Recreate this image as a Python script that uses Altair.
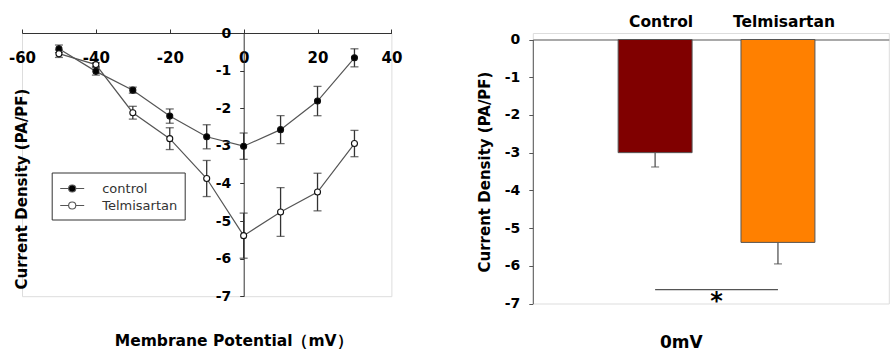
import altair as alt
import pandas as pd

FONT = "DejaVu Sans"

# ---- I-V curve data (left panel) ----
voltage = [-50, -40, -30, -20, -10, 0, 10, 20, 30]
control_mean = [-0.42, -1.02, -1.52, -2.21, -2.76, -3.01, -2.57, -1.81, -0.66]
control_sem = [0.10, 0.10, 0.08, 0.19, 0.32, 0.35, 0.37, 0.39, 0.24]
telmi_mean = [-0.55, -0.84, -2.12, -2.81, -3.87, -5.39, -4.76, -4.23, -2.94]
telmi_sem = [0.10, 0.05, 0.17, 0.29, 0.48, 0.60, 0.65, 0.50, 0.35]
line_groups = ["control", "Telmisartan"]
x_ticks = [-60, -40, -20, 0, 20, 40]
y_ticks = [-7, -6, -5, -4, -3, -2, -1, 0]

# ---- 0 mV bar data (right panel) ----
bar_groups = ["Control", "Telmisartan"]
bar_mean = [-3.00, -5.38]
bar_sem = [0.38, 0.57]
bar_colors = ["#800000", "#FF8000"]
sig_level = [-6.63]
star_level = [-6.95]

n = len(voltage)
df_iv = pd.DataFrame({
    "voltage": voltage * 2,
    "mean": control_mean + telmi_mean,
    "sem": control_sem + telmi_sem,
    "group": [line_groups[0]] * n + [line_groups[1]] * n,
})
df_iv["lo"] = df_iv["mean"] - df_iv["sem"]
df_iv["hi"] = df_iv["mean"] + df_iv["sem"]

HYPHEN = "'' + datum.value"

xs = alt.Scale(domain=[-60, 40], nice=False, zero=False)
ys = alt.Scale(domain=[-7, 0], nice=False)

x_axis = alt.Axis(orient="top", values=x_ticks, tickCount=20, title=None, grid=False,
                  tickSize=4, labelPadding=-33.5, labelBaseline="alphabetic", labelFont=FONT,
                  labelFontSize=15, labelFontWeight="bold", labelColor="#000",
                  domainColor="#333", tickColor="#333", labelFlush=False,
                  labelOverlap=False, labelExpr=HYPHEN)
y_axis = alt.Axis(orient="left", offset=-221.7, values=y_ticks, tickCount=20, grid=False,
                  tickSize=4, labelPadding=9, labelFont=FONT, labelFontSize=14,
                  labelFontWeight="bold", labelColor="#000", domainColor="#333",
                  tickColor="#333", labelFlush=False, labelOverlap=False, labelExpr=HYPHEN,
                  title="Current Density (PA/PF)", titleX=-222, titleY=155.5,
                  titleAngle=270, titleAlign="center", titleBaseline="middle",
                  titleFont=FONT, titleFontSize=15, titleFontWeight="bold", titleColor="#000")

base = alt.Chart(df_iv)
X = alt.X("voltage:Q", scale=xs, axis=x_axis)

err = base.mark_rule(color="#333", strokeWidth=1.3).encode(
    x=X, y=alt.Y("lo:Q", scale=ys, axis=y_axis), y2="hi:Q")
cap_lo = base.mark_tick(color="#333", orient="horizontal", size=8, thickness=1.3).encode(
    x=X, y=alt.Y("lo:Q", scale=ys))
cap_hi = base.mark_tick(color="#333", orient="horizontal", size=8, thickness=1.3).encode(
    x=X, y=alt.Y("hi:Q", scale=ys))
lines = base.mark_line(color="#555", strokeWidth=1.2).encode(
    x=X, y=alt.Y("mean:Q", scale=ys), detail="group:N")
# legend glyph: short line with a circle, drawn in symbol units (scale = 8.5 px)
legend_symbol = ("M-0.88,0L0.11,0M0.95,0L1.94,0M0.95,0A0.42,0.42,0,1,1,0.11,0"
                 "A0.42,0.42,0,1,1,0.95,0Z")
points = base.mark_point(filled=True, size=36, stroke="#111", strokeWidth=1.1, opacity=1).encode(
    x=X, y=alt.Y("mean:Q", scale=ys),
    fill=alt.Fill("group:N", scale=alt.Scale(domain=line_groups, range=["#000000", "#ffffff"]),
                  legend=alt.Legend(title=None, orient="none", legendX=29.7, legendY=139.5,
                                    symbolType=legend_symbol, symbolSize=289,
                                    symbolStrokeColor="#111", symbolStrokeWidth=1.1,
                                    symbolOpacity=1,
                                    labelFont=FONT, labelFontSize=13, labelColor="#333",
                                    labelOffset=25, rowPadding=0, padding=6.5,
                                    strokeColor="#333", fillColor="white")))

left = alt.layer(err, cap_lo, cap_hi, lines, points).properties(
    width=369.4, height=263.2,
    title=alt.TitleParams("Membrane Potential（mV）", orient="bottom", anchor="middle",
                          dx=27, offset=31, font=FONT, fontSize=15.5, fontWeight="bold",
                          color="#000"))

# ---- right panel ----
df_bar = pd.DataFrame({"group": bar_groups, "mean": bar_mean, "sem": bar_sem,
                       "color": bar_colors})
df_bar["lo"] = df_bar["mean"] - df_bar["sem"]

xb = alt.Scale(domain=bar_groups, paddingInner=0.398, paddingOuter=0.648, align=0.536)
yb = alt.Scale(domain=[-7, 0], range=[270.5, 6.5], nice=False)

xb_axis = alt.Axis(orient="top", offset=-6.5, title=None, ticks=False, tickSize=0,
                   labelAngle=0, labelPadding=13.5, labelBaseline="alphabetic",
                   labelOffset=6, labelFont=FONT, labelFontSize=15.5, labelFontWeight="bold",
                   labelColor="#000", domainColor="#555", domainWidth=1.2)
yb_axis = alt.Axis(values=y_ticks, tickCount=20, grid=False, tickSize=4, labelPadding=9,
                   labelFont=FONT, labelFontSize=14, labelFontWeight="bold", labelColor="#000",
                   domainColor="#555", tickColor="#555", labelExpr=HYPHEN,
                   labelOverlap=False, labelFlush=False,
                   title="Current Density (PA/PF)", titlePadding=12, titleFont=FONT,
                   titleFontSize=15, titleFontWeight="bold", titleColor="#000")

bbase = alt.Chart(df_bar)
XB = alt.X("group:N", scale=xb, axis=xb_axis)
bars = bbase.mark_bar(stroke="#555", strokeWidth=1).encode(
    x=XB, y=alt.Y("mean:Q", scale=yb, axis=yb_axis),
    fill=alt.Fill("color:N", scale=None))
berr = bbase.mark_rule(color="#555", strokeWidth=1.3).encode(
    x=XB, y=alt.Y("mean:Q", scale=yb), y2="lo:Q")
bcap = bbase.mark_tick(color="#555", orient="horizontal", size=8, thickness=1.3).encode(
    x=XB, y=alt.Y("lo:Q", scale=yb))

df_sig = pd.DataFrame({"a": [bar_groups[0]], "b": [bar_groups[1]],
                       "y": sig_level, "ys": star_level})
sig = alt.Chart(df_sig).mark_rule(color="#555", strokeWidth=1.3).encode(
    x=alt.X("a:N", scale=xb), x2="b:N", y=alt.Y("y:Q", scale=yb))
star = alt.Chart(df_sig).mark_text(text="*", dx=61.5, font=FONT, fontSize=24,
                                   fontWeight="bold", baseline="middle", color="#000").encode(
    x=alt.X("a:N", scale=xb), y=alt.Y("ys:Q", scale=yb))

right = alt.layer(bars, berr, bcap, sig, star).properties(
    width=356, height=270.5,
    title=alt.TitleParams("0mV", orient="bottom", anchor="middle", dx=-29.5, offset=21,
                          font=FONT, fontSize=17, fontWeight="bold", color="#000"))

chart = alt.hconcat(left, right, spacing=140.8, bounds="flush").properties(
    padding={"left": 7, "top": 13, "right": 0, "bottom": 0}
).configure_view(stroke=None).configure(font=FONT).configure_axis(labelOverlap=False)

chart.save("out.html", embed_options={"renderer": "svg", "actions": False})
